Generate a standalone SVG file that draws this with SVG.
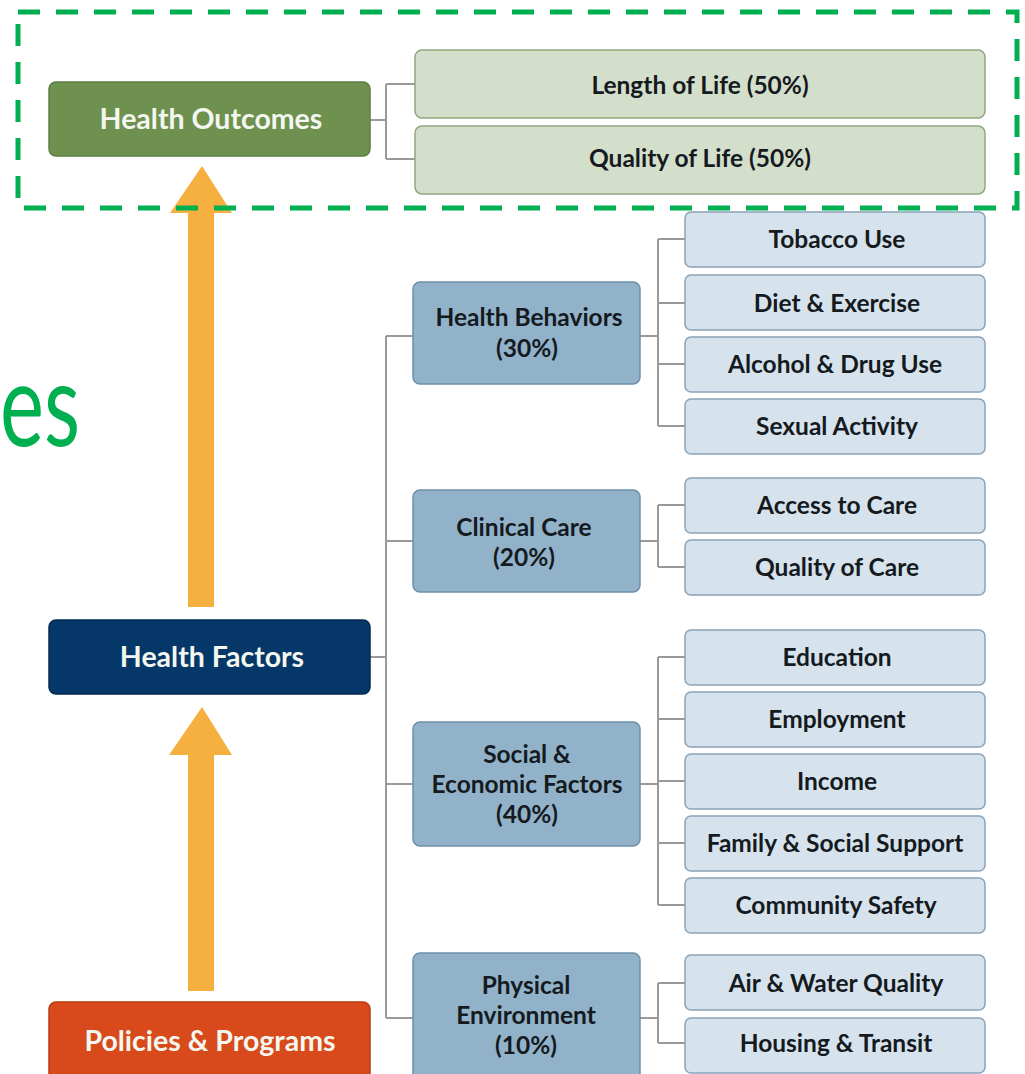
<svg xmlns="http://www.w3.org/2000/svg" width="1025" height="1074" viewBox="0 0 1025 1074">
<style>
.main{font-family:Lato,"Liberation Sans",sans-serif;font-weight:bold;font-size:28.5px;fill:#f4f7ef;text-anchor:middle}
.t{font-family:Lato,"Liberation Sans",sans-serif;font-weight:bold;font-size:24.5px;fill:#151a1f;text-anchor:middle}
.cat rect{fill:#91b2c9;stroke:#6f90a9;stroke-width:1.5}
.sub rect{fill:#d6e3ec;stroke:#8aa3b8;stroke-width:1.5}
.out rect{fill:#d4dfcb;stroke:#8ea87d;stroke-width:1.5}
.conn{fill:none;stroke:#9a9a9a;stroke-width:2}
.arrow{fill:#f6b040}
</style>
<rect width="1025" height="1074" fill="#ffffff"/>
<text x="0" y="446" font-family="Lato,'Liberation Sans',sans-serif" font-size="116" font-weight="normal" fill="#00b050" textLength="80" lengthAdjust="spacingAndGlyphs">es</text>
<g id="arrows">
<path class="arrow" d="M188,607 L188,213 L170,213 L202,166 L232,213 L214,213 L214,607 Z"/>
<path class="arrow" d="M188,991 L188,755 L169,755 L202,707 L232,755 L214,755 L214,991 Z"/>
</g>
<g id="connectors" class="conn">
<path d="M370,120 H386 M386,84 V159 M386,84 H415 M386,159 H415"/>
<path d="M370,657 H386 M386,336 V1018 M386,336 H413 M386,541 H413 M386,784 H413 M386,1018 H413"/>
<path d="M640,336 H658 M658,239 V426 M658,239 H685 M658,303 H685 M658,364 H685 M658,426 H685"/>
<path d="M640,541 H658 M658,505 V567 M658,505 H685 M658,567 H685"/>
<path d="M640,784 H658 M658,657 V905 M658,657 H685 M658,719 H685 M658,781 H685 M658,843 H685 M658,905 H685"/>
<path d="M640,1018 H658 M658,983 V1043 M658,983 H685 M658,1043 H685"/>
</g>
<g id="health-outcomes"><rect x="49" y="82" width="321" height="74" rx="7" fill="#6e9150" stroke="#5d7d44" stroke-width="1.5"/><text class="main" x="211" y="129">Health Outcomes</text></g>
<g id="health-factors"><rect x="49" y="620" width="321" height="74" rx="7" fill="#053868" stroke="#032a50" stroke-width="1.5"/><text class="main" x="212" y="667">Health Factors</text></g>
<g id="policies"><rect x="49" y="1002" width="321" height="90" rx="7" fill="#d84a1b" stroke="#b83d15" stroke-width="1.5"/><text class="main" x="210" y="1051">Policies &amp; Programs</text></g>
<g id="length-of-life" class="out"><rect x="415" y="50" width="570" height="68" rx="7"/><text class="t" x="700" y="94">Length of Life (50%)</text></g>
<g id="quality-of-life" class="out"><rect x="415" y="126" width="570" height="68" rx="7"/><text class="t" x="700" y="167">Quality of Life (50%)</text></g>
<g id="health-behaviors" class="cat"><rect x="413" y="282" width="227" height="102" rx="7"/><text class="t" x="529" y="326">Health Behaviors</text><text class="t" x="527" y="357">(30%)</text></g>
<g id="clinical-care" class="cat"><rect x="413" y="490" width="227" height="102" rx="7"/><text class="t" x="524" y="536">Clinical Care</text><text class="t" x="524" y="566">(20%)</text></g>
<g id="social-economic" class="cat"><rect x="413" y="722" width="227" height="124" rx="7"/><text class="t" x="527" y="763">Social &amp;</text><text class="t" x="527" y="793">Economic Factors</text><text class="t" x="527" y="823">(40%)</text></g>
<g id="physical-environment" class="cat"><rect x="413" y="953" width="227" height="130" rx="7"/><text class="t" x="526" y="994">Physical</text><text class="t" x="526" y="1024">Environment</text><text class="t" x="526" y="1054">(10%)</text></g>
<g id="tobacco" class="sub"><rect x="685" y="212" width="300" height="55" rx="6"/><text class="t" x="837" y="248">Tobacco Use</text></g>
<g id="diet" class="sub"><rect x="685" y="275" width="300" height="55" rx="6"/><text class="t" x="837" y="312">Diet &amp; Exercise</text></g>
<g id="alcohol" class="sub"><rect x="685" y="337" width="300" height="55" rx="6"/><text class="t" x="835" y="373">Alcohol &amp; Drug Use</text></g>
<g id="sexual" class="sub"><rect x="685" y="399" width="300" height="55" rx="6"/><text class="t" x="837" y="435">Sexual Activity</text></g>
<g id="access" class="sub"><rect x="685" y="478" width="300" height="55" rx="6"/><text class="t" x="837" y="514">Access to Care</text></g>
<g id="quality-care" class="sub"><rect x="685" y="540" width="300" height="55" rx="6"/><text class="t" x="837" y="576">Quality of Care</text></g>
<g id="education" class="sub"><rect x="685" y="630" width="300" height="55" rx="6"/><text class="t" x="837" y="666">Education</text></g>
<g id="employment" class="sub"><rect x="685" y="692" width="300" height="55" rx="6"/><text class="t" x="837" y="728">Employment</text></g>
<g id="income" class="sub"><rect x="685" y="754" width="300" height="55" rx="6"/><text class="t" x="837" y="790">Income</text></g>
<g id="family" class="sub"><rect x="685" y="816" width="300" height="55" rx="6"/><text class="t" x="835" y="852">Family &amp; Social Support</text></g>
<g id="community" class="sub"><rect x="685" y="878" width="300" height="55" rx="6"/><text class="t" x="836" y="914">Community Safety</text></g>
<g id="air-water" class="sub"><rect x="685" y="955" width="300" height="55" rx="6"/><text class="t" x="836" y="992">Air &amp; Water Quality</text></g>
<g id="housing" class="sub"><rect x="685" y="1018" width="300" height="55" rx="6"/><text class="t" x="836" y="1052">Housing &amp; Transit</text></g>
<rect id="outcome-frame" x="18" y="12" width="999" height="196" fill="none" stroke="#00b050" stroke-width="5" stroke-dasharray="22 16"/>
</svg>
